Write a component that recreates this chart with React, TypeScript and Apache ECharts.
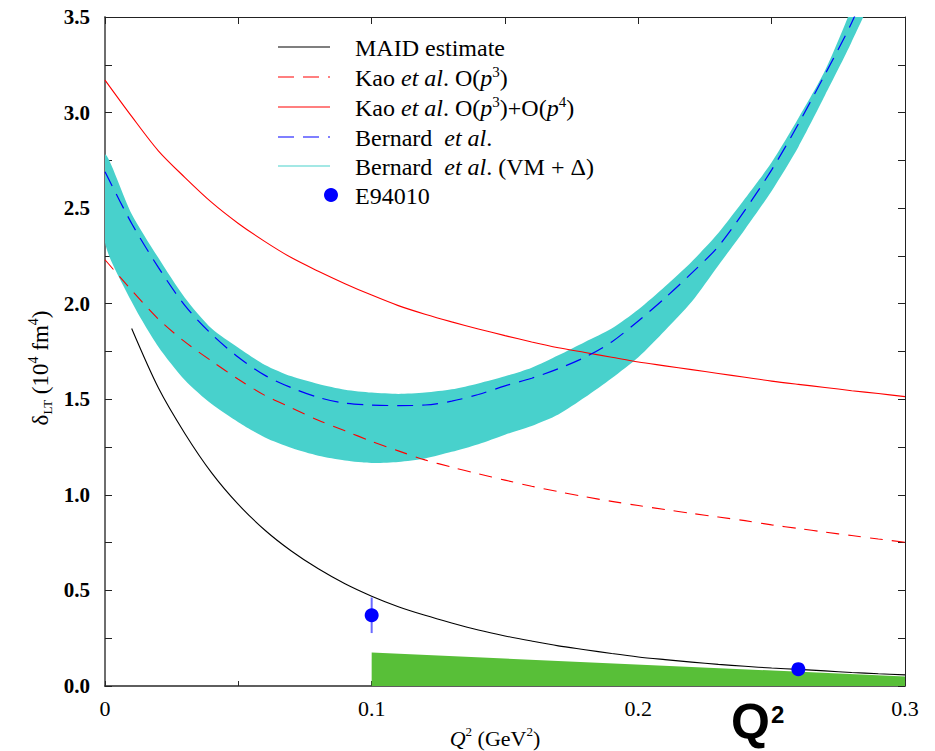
import React, { useEffect, useRef } from "react";
import * as echarts from "echarts";

// Q^2 grid (GeV^2) for the chiral calculations
const qGrid = [0, 0.01, 0.02, 0.03, 0.04, 0.05, 0.06, 0.07, 0.08, 0.09, 0.1, 0.11, 0.12, 0.13, 0.14, 0.15,
  0.16, 0.17, 0.18, 0.19, 0.2, 0.21, 0.22, 0.23, 0.24, 0.25, 0.26, 0.27, 0.28, 0.29, 0.3];
// Kao et al. O(p^3)+O(p^4)
const kaoP3P4 = [3.17, 2.98, 2.8, 2.66, 2.53, 2.42, 2.325, 2.24, 2.17, 2.105, 2.045, 1.99, 1.945, 1.905, 1.868,
  1.833, 1.8, 1.77, 1.745, 1.72, 1.695, 1.675, 1.655, 1.635, 1.615, 1.595, 1.578, 1.562, 1.545, 1.53, 1.514];
// Kao et al. O(p^3)
const kaoP3 = [2.23, 2.07, 1.92, 1.8, 1.7, 1.605, 1.52, 1.455, 1.39, 1.335, 1.28, 1.23, 1.183, 1.145, 1.11,
  1.077, 1.045, 1.017, 0.99, 0.966, 0.944, 0.923, 0.903, 0.884, 0.865, 0.843, 0.824, 0.805, 0.787, 0.769, 0.752];

// MAID estimate
const maidQ = [0.01, 0.02, 0.03, 0.04, 0.05, 0.06, 0.07, 0.08, 0.09, 0.1, 0.11, 0.12, 0.13, 0.14, 0.15,
  0.16, 0.17, 0.18, 0.19, 0.2, 0.21, 0.22, 0.23, 0.24, 0.25, 0.26, 0.27, 0.28, 0.29, 0.3];
const maid = [1.87, 1.56, 1.32, 1.115, 0.95, 0.815, 0.705, 0.613, 0.535, 0.47, 0.415, 0.37, 0.33, 0.293, 0.262,
  0.235, 0.21, 0.19, 0.17, 0.152, 0.138, 0.125, 0.113, 0.103, 0.094, 0.087, 0.079, 0.071, 0.064, 0.058];

// Bernard et al. and the (VM + Delta) band
const bandQ = [0, 0.01, 0.02, 0.03, 0.04, 0.05, 0.06, 0.07, 0.08, 0.09, 0.1, 0.11, 0.12, 0.13, 0.14, 0.15,
  0.16, 0.17, 0.18, 0.19, 0.2, 0.21, 0.22, 0.23, 0.24, 0.25, 0.26, 0.27, 0.28, 0.29];
const bernard = [2.69, 2.42, 2.19, 1.99, 1.84, 1.72, 1.625, 1.56, 1.51, 1.48, 1.47, 1.467, 1.47, 1.49, 1.525,
  1.57, 1.61, 1.66, 1.72, 1.8, 1.91, 2.03, 2.16, 2.3, 2.49, 2.7, 2.94, 3.2, 3.47, 3.8];
const bandLow = [2.32, 2.01, 1.775, 1.6, 1.475, 1.38, 1.3, 1.245, 1.205, 1.18, 1.167, 1.172, 1.19, 1.225, 1.265,
  1.315, 1.36, 1.42, 1.51, 1.61, 1.72, 1.86, 2.01, 2.2, 2.39, 2.59, 2.82, 3.09, 3.37, 3.7];
const bandHigh = [2.78, 2.47, 2.24, 2.03, 1.87, 1.77, 1.68, 1.62, 1.58, 1.55, 1.535, 1.528, 1.535, 1.552, 1.583,
  1.62, 1.665, 1.73, 1.8, 1.87, 1.97, 2.09, 2.22, 2.37, 2.55, 2.74, 2.97, 3.22, 3.55, 3.95];

// E94010 data with statistical errors
const e94010Q = [0.1, 0.26];
const e94010 = [0.37, 0.088];
const e94010Err = [0.093, 0.008];

// systematic uncertainty band
const sysQ = [0.1, 0.3];
const sysErr = [0.175, 0.05];

const SERIF = "'Liberation Serif', 'Times New Roman', serif";
const SANS = "'Liberation Sans', Arial, sans-serif";

const legendRows = [
  { y: 47, kind: "line", color: "#000000", dash: null, text: "{n|MAID estimate}" },
  { y: 77, kind: "line", color: "#ff0000", dash: [16, 9], text: "{n|Kao }{i|et al}{n|. O(}{i|p}{sup|3}{n|)}" },
  { y: 107, kind: "line", color: "#ff0000", dash: null, text: "{n|Kao }{i|et al}{n|. O(}{i|p}{sup|3}{n|)+O(}{i|p}{sup|4}{n|)}" },
  { y: 137, kind: "line", color: "#0000ff", dash: [16, 9], text: "{n|Bernard  }{i|et al}{n|.}" },
  { y: 166, kind: "line", color: "#48d1cc", dash: null, text: "{n|Bernard  }{i|et al}{n|. (VM + Δ)}" },
  { y: 195, kind: "dot", color: "#0000ff", dash: null, text: "{n|E94010}" },
];

const legendRich = {
  n: { fontFamily: SERIF, fontSize: 24, lineHeight: 28, fill: "#000" },
  i: { fontFamily: SERIF, fontSize: 24, lineHeight: 28, fontStyle: "italic", fill: "#000" },
  sup: { fontFamily: SERIF, fontSize: 15, lineHeight: 15, verticalAlign: "top", fill: "#000" },
};

const pairs = (xs: number[], ys: number[]) => xs.map((x, i) => [x, ys[i]]);

export default function App() {
  const ref = useRef<HTMLDivElement>(null);

  useEffect(() => {
    if (!ref.current) return;
    const chart = echarts.init(ref.current, null, { renderer: "svg" });

    const legendGraphics: any[] = [];
    legendRows.forEach((r) => {
      if (r.kind === "line") {
        legendGraphics.push({
          type: "line",
          shape: { x1: 278, y1: r.y, x2: 330, y2: r.y },
          style: { stroke: r.color, lineWidth: 1.2, lineDash: r.dash || undefined },
          z: 10,
        });
      } else {
        legendGraphics.push({
          type: "circle",
          shape: { cx: 331, cy: r.y, r: 7 },
          style: { fill: r.color },
          z: 10,
        });
      }
      legendGraphics.push({
        type: "text",
        x: 355,
        y: r.y + 1,
        style: { text: r.text, rich: legendRich, align: "left", verticalAlign: "middle" },
        z: 10,
      });
    });

    const option: any = {
      animation: false,
      backgroundColor: "#ffffff",
      grid: { left: 105, right: 30, top: 17, bottom: 65, containLabel: false },
      xAxis: [
        {
          type: "value",
          position: "bottom",
          min: 0,
          max: 0.3,
          interval: 0.1,
          axisLine: { show: true, onZero: false, lineStyle: { color: "#2a2a2a", width: 1.5 } },
          axisTick: { show: true, inside: true, length: 5, lineStyle: { color: "#2a2a2a" } },
          minorTick: { show: true, splitNumber: 2, length: 5, lineStyle: { color: "#2a2a2a" } },
          axisLabel: {
            fontFamily: SERIF,
            fontSize: 22,
            color: "#000",
            margin: 11,
            formatter: (v: number) => (v === 0 ? "0" : String(+v.toFixed(1))),
          },
          splitLine: { show: false },
          minorSplitLine: { show: false },
        },
        {
          type: "value",
          position: "top",
          min: 0,
          max: 0.3,
          interval: 0.1,
          axisLine: { show: true, onZero: false, lineStyle: { color: "#222", width: 1 } },
          axisTick: { show: true, inside: true, length: 7, lineStyle: { color: "#222" } },
          minorTick: { show: true, splitNumber: 2, length: 7, lineStyle: { color: "#222" } },
          axisLabel: { show: false },
          splitLine: { show: false },
        },
      ],
      yAxis: [
        {
          type: "value",
          position: "left",
          min: 0,
          max: 3.5,
          interval: 0.5,
          axisLine: { show: true, onZero: false, lineStyle: { color: "#6e6e6e", width: 2 } },
          axisTick: { show: true, inside: true, length: 7, lineStyle: { color: "#222" } },
          minorTick: { show: true, splitNumber: 2, length: 7, lineStyle: { color: "#222" } },
          axisLabel: {
            fontFamily: SERIF,
            fontSize: 21,
            fontWeight: "bold",
            color: "#000",
            margin: 15,
            formatter: (v: number) => v.toFixed(1),
          },
          splitLine: { show: false },
          minorSplitLine: { show: false },
        },
        {
          type: "value",
          position: "right",
          min: 0,
          max: 3.5,
          interval: 0.25,
          axisLine: { show: true, onZero: false, lineStyle: { color: "#222", width: 1 } },
          axisTick: { show: true, inside: true, length: 7, lineStyle: { color: "#222" } },
          axisLabel: { show: false },
          splitLine: { show: false },
        },
      ],
      graphic: [
        ...legendGraphics,
        {
          type: "text",
          x: 40,
          y: 368,
          rotation: Math.PI / 2,
          style: {
            text: "{n|δ}{sub|LT}{n| (10}{sup|4}{n| fm}{sup|4}{n|)}",
            align: "center",
            verticalAlign: "middle",
            rich: {
              n: { fontFamily: SERIF, fontSize: 23, lineHeight: 28, fill: "#000" },
              sub: { fontFamily: SERIF, fontSize: 13, lineHeight: 13, verticalAlign: "bottom", fill: "#000" },
              sup: { fontFamily: SERIF, fontSize: 14, lineHeight: 14, verticalAlign: "top", fill: "#000" },
            },
          },
        },
        {
          type: "text",
          x: 495,
          y: 738,
          style: {
            text: "{i|Q}{sup|2}{n| (GeV}{sup|2}{n|)}",
            align: "center",
            verticalAlign: "middle",
            rich: {
              n: { fontFamily: SERIF, fontSize: 22, lineHeight: 26, fill: "#000" },
              i: { fontFamily: SERIF, fontSize: 22, lineHeight: 26, fontStyle: "italic", fill: "#000" },
              sup: { fontFamily: SERIF, fontSize: 13, lineHeight: 13, verticalAlign: "top", fill: "#000" },
            },
          },
        },
        {
          type: "text",
          x: 731,
          y: 722,
          style: {
            text: "Q",
            font: `bold 50px ${SANS}`,
            fill: "#000",
            align: "left",
            verticalAlign: "middle",
          },
        },
        {
          type: "text",
          x: 771,
          y: 714,
          style: {
            text: "2",
            font: `bold 24px ${SANS}`,
            fill: "#000",
            align: "left",
            verticalAlign: "middle",
          },
        },
      ],
      series: [
        {
          // filled band between the lower and upper VM + Delta curves
          name: "Bernard et al. (VM + Δ)",
          type: "custom",
          data: [[0, 0]],
          encode: { x: 0, y: 1 },
          silent: true,
          z: 1,
          renderItem: (params: any, api: any) => {
            const upper = bandQ.map((q, i) => api.coord([q, bandHigh[i]]));
            const lower = bandQ.map((q, i) => api.coord([q, bandLow[i]])).reverse();
            const cs = params.coordSys;
            return {
              type: "group",
              clipPath: { type: "rect", shape: { x: cs.x, y: cs.y, width: cs.width, height: cs.height } },
              children: [
                {
                  type: "polygon",
                  shape: { points: upper.concat(lower), smooth: 0.25 },
                  style: { fill: "#48d1cc", stroke: "none" },
                },
              ],
            };
          },
        },
        {
          name: "systematic",
          type: "line",
          data: pairs(sysQ, sysErr),
          showSymbol: false,
          symbol: "none",
          lineStyle: { width: 0, opacity: 0 },
          areaStyle: { color: "#58bf38", opacity: 1 },
          silent: true,
          z: 2,
        },
        {
          name: "Kao et al. O(p3)",
          type: "line",
          data: pairs(qGrid, kaoP3),
          showSymbol: false,
          symbol: "none",
          smooth: 0.3,
          lineStyle: { color: "#ff0000", width: 1.1, type: [13, 9] },
          z: 3,
        },
        {
          name: "Kao et al. O(p3)+O(p4)",
          type: "line",
          data: pairs(qGrid, kaoP3P4),
          showSymbol: false,
          symbol: "none",
          smooth: 0.3,
          lineStyle: { color: "#ff0000", width: 1.1 },
          z: 3,
        },
        {
          name: "Bernard et al.",
          type: "line",
          data: pairs(bandQ, bernard),
          showSymbol: false,
          symbol: "none",
          smooth: 0.3,
          lineStyle: { color: "#0000ff", width: 1.2, type: [16, 9] },
          z: 3,
        },
        {
          name: "MAID estimate",
          type: "line",
          data: pairs(maidQ, maid),
          showSymbol: false,
          symbol: "none",
          smooth: 0.3,
          lineStyle: { color: "#000000", width: 1.1 },
          z: 4,
        },
        {
          name: "E94010 errors",
          type: "custom",
          data: e94010Q.map((q, i) => [q, e94010[i], e94010Err[i]]),
          encode: { x: 0, y: 1 },
          renderItem: (_params: any, api: any) => {
            const x = api.value(0);
            const y = api.value(1);
            const e = api.value(2);
            const top = api.coord([x, y + e]);
            const bot = api.coord([x, y - e]);
            return {
              type: "line",
              shape: { x1: top[0], y1: top[1], x2: bot[0], y2: bot[1] },
              style: { stroke: "#6a6aff", lineWidth: 2 },
            };
          },
          silent: true,
          z: 5,
        },
        {
          name: "E94010",
          type: "scatter",
          data: pairs(e94010Q, e94010),
          symbol: "circle",
          symbolSize: 14,
          itemStyle: { color: "#0000ff", opacity: 1 },
          z: 6,
        },
      ],
    };

    chart.setOption(option);
    return () => {
      chart.dispose();
    };
  }, []);

  return (
    <div
      ref={ref}
      style={{ position: "fixed", left: 0, top: 0, width: 935, height: 751, background: "#fff" }}
    />
  );
}
